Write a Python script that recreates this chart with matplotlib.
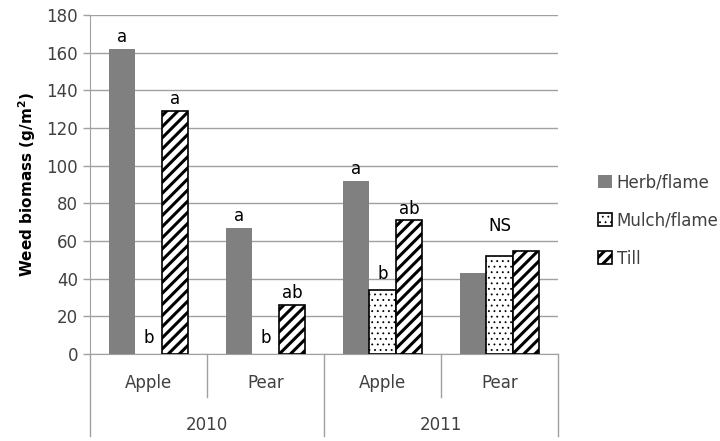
import numpy as np
import matplotlib
matplotlib.use("Agg")
import matplotlib.pyplot as plt

# data
crops = ["Apple", "Pear", "Apple", "Pear"]
years = ["2010", "2011"]
herb = [162, 67, 92, 43]
mulch = [0, 0, 34, 52]
till = [129, 26, 71, 55]
herb_lab = ["a", "a", "a", ""]
mulch_lab = ["b", "b", "b", ""]
till_lab = ["a", "ab", "ab", ""]
group_lab = ["", "", "", "NS"]

plt.rcParams["font.family"] = "DejaVu Sans"
plt.rcParams["hatch.linewidth"] = 2.2

fig = plt.figure(figsize=(7.2, 4.41), dpi=100)
ax = fig.add_axes([0.125, 0.197, 0.65, 0.769])

x = np.arange(len(crops))
w = 0.225
txt = "#404040"

b1 = ax.bar(x - w, herb, w, color="#808080", label="Herb/flame", zorder=3)
b2 = ax.bar(x, mulch, w, color="white", edgecolor="black", hatch="...",
            linewidth=1.2, label="Mulch/flame", zorder=3)
b3 = ax.bar(x + w, till, w, color="white", edgecolor="black", hatch="///",
            linewidth=1.2, label="Till", zorder=3)

# thinner dots for the mulch pattern
for p in b2:
    if hasattr(p, "set_hatch_linewidth"):
        p.set_hatch_linewidth(0.6)
    if p.get_height() == 0:
        p.set_linewidth(0)

for i in range(len(crops)):
    if herb_lab[i]:
        ax.text(x[i] - w, herb[i] + 1.5, herb_lab[i], ha="center", va="bottom", fontsize=12, color="black")
    if mulch_lab[i]:
        ax.text(x[i], mulch[i] + 4, mulch_lab[i], ha="center", va="bottom", fontsize=12, color="black")
    if till_lab[i]:
        ax.text(x[i] + w, till[i] + 1.5, till_lab[i], ha="center", va="bottom", fontsize=12, color="black")
    if group_lab[i]:
        ax.text(x[i], max(herb[i], mulch[i], till[i]) + 8, group_lab[i], ha="center",
                va="bottom", fontsize=12, color="black")

ax.set_xlim(-0.5, len(crops) - 0.5)
ax.set_ylim(0, 180)
ax.set_yticks(np.arange(0, 181, 20))
ax.tick_params(axis="y", labelsize=12, colors="#404040", length=5, color="#a0a0a0", width=1)
ax.tick_params(axis="x", length=0, labelbottom=False)
ax.grid(axis="y", color="#a0a0a0", linewidth=1, zorder=0)
for s in ["top", "right"]:
    ax.spines[s].set_visible(False)
ax.spines["left"].set_color("#a0a0a0")
ax.spines["bottom"].set_color("#a0a0a0")
ax.set_ylabel("Weed biomass (g/m$\\mathbf{^2}$)", fontsize=11, fontweight="bold", color="black", labelpad=6)

# two-level category axis
trans = ax.get_xaxis_transform()
lc = "#a0a0a0"
for xb, depth in [(-0.5, -0.24), (0.5, -0.125), (1.5, -0.24), (2.5, -0.125), (3.5, -0.24)]:
    ax.plot([xb, xb], [0, depth], color=lc, lw=1, transform=trans, clip_on=False)
for i, c in enumerate(crops):
    ax.text(x[i], -0.085, c, transform=trans, ha="center", va="center", fontsize=12, color=txt)
for j, yr in enumerate(years):
    ax.text(2 * j + 0.5, -0.21, yr, transform=trans, ha="center", va="center", fontsize=12, color=txt)

leg = fig.legend(handles=[b1, b2, b3], loc="center left", bbox_to_anchor=(0.81, 0.5),
                 frameon=False, fontsize=12, labelspacing=1.2, handlelength=0.8, handleheight=0.8,
                 handletextpad=0.3, labelcolor=txt)
for h in leg.legend_handles:
    h.set_linewidth(1.2)
    if h.get_hatch() == "..." and hasattr(h, "set_hatch_linewidth"):
        h.set_hatch_linewidth(0.6)

fig.savefig("out.png", dpi=100)
